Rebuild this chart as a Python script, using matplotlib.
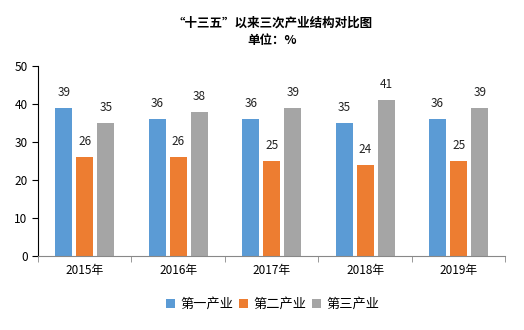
import matplotlib.pyplot as plt
import numpy as np
from matplotlib.ticker import FixedLocator

plt.rcParams['font.family'] = ['Noto Sans CJK SC', 'DejaVu Sans']

years = ["2015年", "2016年", "2017年", "2018年", "2019年"]
primary = [39, 36, 36, 35, 36]
secondary = [26, 26, 25, 24, 25]
tertiary = [35, 38, 39, 41, 39]
series_names = ["第一产业", "第二产业", "第三产业"]
colors = ["#5b9bd5", "#ed7d31", "#a5a5a5"]

fig = plt.figure(figsize=(5.24, 3.3), dpi=100)
ax = fig.add_axes([0.0725, 0.224, 0.892, 0.576])

x = np.arange(len(years))
w = 0.18
step = 0.225
for i, (vals, name, c) in enumerate(zip([primary, secondary, tertiary], series_names, colors)):
    pos = x + (i - 1) * step
    ax.bar(pos, vals, w, color=c, label=name)
    for p, v in zip(pos, vals):
        ax.text(p, v + 2.3, str(v), ha="center", va="bottom", fontsize=8.5, color="#222222")

ax.set_xlim(-0.5, len(years) - 0.5)
ax.set_ylim(0, 50)
ax.set_yticks(range(0, 51, 10))
ax.set_xticks(x)
ax.set_xticklabels(years, fontsize=8.5)
ax.tick_params(axis="x", length=0, pad=6)
ax.xaxis.set_minor_locator(FixedLocator(np.arange(-0.5, len(years), 1.0)))
ax.tick_params(axis="x", which="minor", length=4, color="#888888", direction="out")
ax.tick_params(axis="y", labelsize=8.5, length=4, width=0.8)
for s in ["top", "right"]:
    ax.spines[s].set_visible(False)
ax.spines["bottom"].set_color("#888888")
ax.spines["left"].set_color("#000000")
ax.spines["left"].set_linewidth(0.8)

fig.text(0.52, 0.93, "“十三五”以来三次产业结构对比图", ha="center", va="center",
         fontsize=9, fontweight="bold")
fig.text(0.52, 0.877, "单位：%", ha="center", va="center", fontsize=9, fontweight="bold")

fig.legend(loc="center", bbox_to_anchor=(0.52, 0.078), ncol=3, frameon=False,
           fontsize=9.5, handlelength=0.7, handleheight=0.7, handletextpad=0.4,
           columnspacing=0.4)

fig.savefig("out.png", dpi=100)
